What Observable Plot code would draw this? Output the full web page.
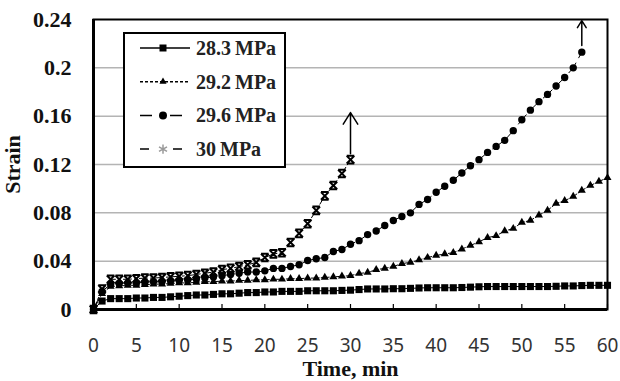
<!DOCTYPE html>
<html>
<head>
<meta charset="utf-8">
<script src="https://cdn.jsdelivr.net/npm/d3@7"></script>
<script src="https://cdn.jsdelivr.net/npm/@observablehq/plot@0.6"></script>
<style>
  body { margin: 0; background: #fff; }
  #wrap { position: relative; width: 620px; height: 381px; }
  #wrap svg.legend { position: absolute; left: 0; top: 0; pointer-events: none; }
  g[aria-label="y-axis tick label"] { font: bold 22px "Liberation Serif"; fill: #111; }
  g[aria-label="x-axis tick label"] { font: 19px "Noto Sans"; fill: #333; }
  g[aria-label="x-axis label"], g[aria-label="y-axis label"] { font: bold 22px "Liberation Serif"; fill: #111; }
</style>
</head>
<body>
<div id="wrap"></div>
<script>
// Creep strain versus time for four stress levels (one reading per minute)
const time = [0, 1, 2, 3, 4, 5, 6, 7, 8, 9, 10, 11, 12, 13, 14, 15, 16, 17, 18, 19, 20,
  21, 22, 23, 24, 25, 26, 27, 28, 29, 30, 31, 32, 33, 34, 35, 36, 37, 38, 39, 40,
  41, 42, 43, 44, 45, 46, 47, 48, 49, 50, 51, 52, 53, 54, 55, 56, 57, 58, 59, 60];

const strain283 = [0, 0.007, 0.009, 0.009, 0.009, 0.0095, 0.0095, 0.010, 0.010, 0.0105, 0.011,
  0.0115, 0.012, 0.012, 0.0125, 0.013, 0.013, 0.0135, 0.014, 0.014, 0.0145,
  0.0145, 0.015, 0.015, 0.015, 0.0155, 0.0155, 0.0155, 0.0155, 0.0158, 0.016,
  0.0165, 0.017, 0.017, 0.017, 0.0172, 0.0172, 0.0175, 0.0178, 0.018, 0.018,
  0.018, 0.018, 0.0182, 0.0185, 0.0188, 0.019, 0.019, 0.019, 0.019, 0.019,
  0.019, 0.019, 0.019, 0.0192, 0.0195, 0.0195, 0.0198, 0.020, 0.020, 0.020];

const strain292 = [0, 0.013, 0.019, 0.0195, 0.020, 0.020, 0.0205, 0.021, 0.021, 0.0215, 0.022,
  0.022, 0.0225, 0.023, 0.023, 0.0235, 0.0235, 0.024, 0.024, 0.0245, 0.0245,
  0.025, 0.025, 0.0255, 0.0255, 0.026, 0.026, 0.0265, 0.027, 0.0275, 0.028,
  0.0298, 0.0306, 0.033, 0.034, 0.0356, 0.038, 0.039, 0.041, 0.043, 0.0447,
  0.046, 0.047, 0.050, 0.053, 0.056, 0.0595, 0.061, 0.065, 0.067, 0.072,
  0.0737, 0.078, 0.082, 0.0877, 0.090, 0.0935, 0.0985, 0.1026, 0.106, 0.109];

const strain296 = [0, 0.015, 0.021, 0.0215, 0.022, 0.022, 0.0225, 0.023, 0.023, 0.0235, 0.024,
  0.0245, 0.025, 0.026, 0.027, 0.028, 0.029, 0.030, 0.031, 0.031, 0.032,
  0.034, 0.034, 0.0356, 0.037, 0.0405, 0.042, 0.043, 0.048, 0.0497, 0.054,
  0.057, 0.062, 0.065, 0.0695, 0.0737, 0.077, 0.080, 0.087, 0.091, 0.097,
  0.102, 0.107, 0.113, 0.119, 0.124, 0.130, 0.135, 0.140, 0.148, 0.157,
  0.165, 0.172, 0.178, 0.185, 0.192, 0.200, 0.213];

const strain300 = [0, 0.017, 0.025, 0.025, 0.025, 0.0255, 0.026, 0.026, 0.0265, 0.027, 0.0275,
  0.028, 0.029, 0.030, 0.031, 0.033, 0.034, 0.0355, 0.037, 0.039, 0.043,
  0.046, 0.047, 0.0555, 0.063, 0.071, 0.082, 0.094, 0.1026, 0.1125, 0.124];

const seriesNames = ["28.3 MPa", "29.2 MPa", "29.6 MPa", "30 MPa"];
const seriesLabels = ["28.3\u2009MPa", "29.2\u2009MPa", "29.6\u2009MPa", "30\u2009MPa"];

// Rupture arrows: time, start strain, tip strain
const arrowTime = [30, 57];
const arrowFrom = [0.129, 0.2185];
const arrowTo = [0.163, 0.239];

const xTicks = [0, 5, 10, 15, 20, 25, 30, 35, 40, 45, 50, 55, 60];
const yTicks = [0, 0.04, 0.08, 0.12, 0.16, 0.2, 0.24];
const yTickLabels = ["0", "0.04", "0.08", "0.12", "0.16", "0.2", "0.24"];

// Hourglass-style cross used for the 30 MPa readings
const hourglass = {
  draw(context, size) {
    const r = Math.sqrt(size / Math.PI);
    context.moveTo(-r, -r); context.lineTo(r, r);
    context.moveTo(r, -r); context.lineTo(-r, r);
    context.moveTo(-r, -r); context.lineTo(r, -r);
    context.moveTo(-r, r); context.lineTo(r, r);
  }
};

const seriesValues = [strain283, strain292, strain296, strain300];
const rows = seriesValues.flatMap((vals, k) =>
  vals.map((v, i) => ({t: time[i], strain: v, series: seriesNames[k]})));
const of = (name) => rows.filter((d) => d.series === name);
const arrows = arrowTime.map((t, i) => ({t, from: arrowFrom[i], to: arrowTo[i]}));

const style = {
  "28.3 MPa": {dash: null, symbol: "square", r: 4.0},
  "29.2 MPa": {dash: "3,2", symbol: "triangle", r: 3.0},
  "29.6 MPa": {dash: "12,6", symbol: "circle", r: 3.7},
  "30 MPa": {dash: "8,3,2,3", symbol: hourglass, r: 3.8}
};

const marks = [
  Plot.gridY(yTicks.filter((v) => v > 0 && v < 0.24), {stroke: "#b4b4b4", strokeOpacity: 1, strokeWidth: 1.5}),
  Plot.axisY(yTicks, {
    tickSize: 0, tickPadding: 22,
    tickFormat: (d, i) => yTickLabels[i],
    label: "Strain", labelAnchor: "center", labelArrow: "none", labelOffset: 89
  }),
  Plot.axisX(xTicks, {
    tickSize: -5, tickPadding: 34, strokeWidth: 1.2,
    label: "Time, min", labelAnchor: "center", labelArrow: "none", labelOffset: 66
  })
];

for (const name of seriesNames) {
  const s = style[name];
  marks.push(Plot.line(of(name), {x: "t", y: "strain", stroke: "black", strokeWidth: 1, strokeDasharray: s.dash}));
}
for (const name of seriesNames) {
  const s = style[name];
  if (typeof s.symbol === "string") {
    marks.push(Plot.dot(of(name), {x: "t", y: "strain", symbol: () => s.symbol, r: s.r, fill: "black", stroke: "none"}));
  } else {
    marks.push(Plot.dot(of(name), {x: "t", y: "strain", symbol: () => s.symbol, r: s.r, fill: "none", stroke: "black", strokeWidth: 2}));
  }
}
marks.push(
  Plot.arrow(arrows, {x: "t", y1: "from", y2: "to", stroke: "black", strokeWidth: 1.5, headLength: 15, headAngle: 64}),
  Plot.frame({stroke: "black", strokeWidth: 2}),
  Plot.ruleX([0], {stroke: "black", strokeWidth: 3}),
  Plot.ruleY([0], {stroke: "black", strokeWidth: 3})
);

const chart = Plot.plot({
  width: 620, height: 381,
  marginLeft: 93, marginRight: 13, marginTop: 19, marginBottom: 72,
  x: {domain: [0, 60]},
  y: {domain: [0, 0.24]},
  symbol: {type: "identity"},
  marks
});
const wrap = document.getElementById("wrap");
wrap.appendChild(chart);

// Legend box drawn over the upper-left part of the plot area
const legendSvg = d3.select(wrap).append("svg").attr("class", "legend")
  .attr("width", 620).attr("height", 381);
legendSvg.append("rect").attr("x", 124).attr("y", 33).attr("width", 161).attr("height", 134)
  .attr("fill", "white").attr("stroke", "black").attr("stroke-width", 2);
const legendDash = {"28.3 MPa": null, "29.2 MPa": "3,2", "29.6 MPa": "12,18", "30 MPa": "9,24"};
const legendMarker = {
  "28.3 MPa": {type: d3.symbolSquare, size: 49, fill: "black", stroke: "none"},
  "29.2 MPa": {type: d3.symbolTriangle, size: 22, fill: "black", stroke: "none"},
  "29.6 MPa": {type: d3.symbolCircle, size: 50, fill: "black", stroke: "none"},
  "30 MPa": {type: d3.symbolAsterisk, size: 60, fill: "none", stroke: "#9a9a9a"}
};
seriesNames.forEach((name, i) => {
  const y = 48 + i * 33.7;
  const g = legendSvg.append("g");
  g.append("line").attr("x1", 140).attr("x2", 190).attr("y1", y).attr("y2", y)
    .attr("stroke", "black").attr("stroke-width", 1.5)
    .attr("stroke-dasharray", legendDash[name]);
  const m = legendMarker[name];
  g.append("path").attr("transform", `translate(163,${y})`)
    .attr("d", d3.symbol(m.type, m.size)())
    .attr("fill", m.fill).attr("stroke", m.stroke).attr("stroke-width", 1.5);
  g.append("text").attr("x", 196).attr("y", y).attr("dy", "0.35em")
    .attr("font-family", "Liberation Serif").attr("font-weight", "bold").attr("font-size", 20)
    .attr("fill", "#222").text(seriesLabels[i]);
});
</script>
</body>
</html>
